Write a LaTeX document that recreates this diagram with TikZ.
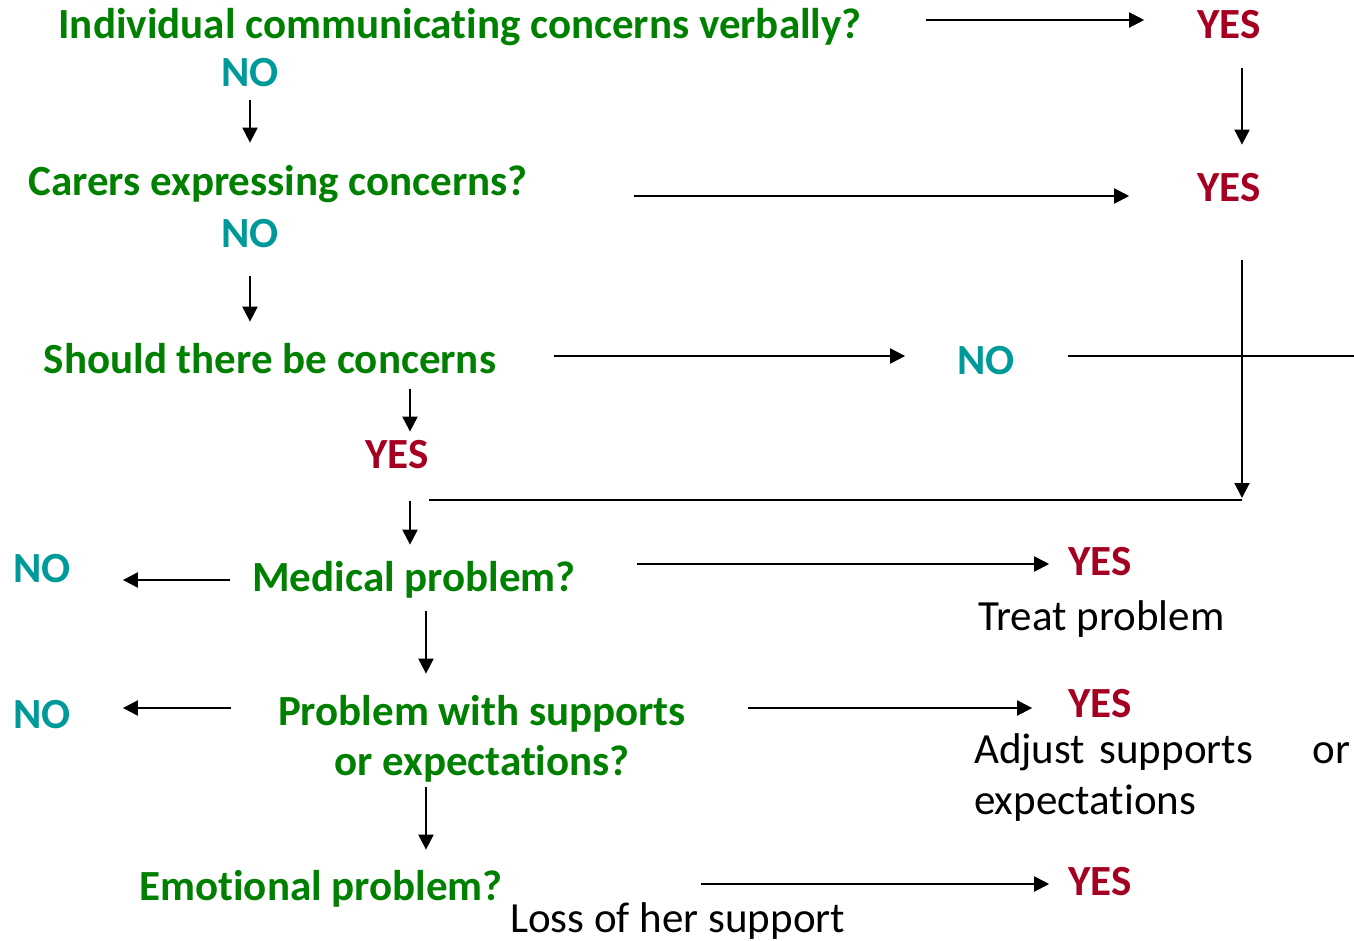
\documentclass[tikz,border=0pt]{standalone}
\usepackage{fontspec}
\setmainfont{Carlito}[Ligatures=NoCommon]
\usetikzlibrary{arrows.meta}
\definecolor{qgreen}{HTML}{008000}
\definecolor{nocol}{HTML}{009999}
\definecolor{yescol}{HTML}{A50021}
\tikzset{
	q/.style={anchor=base,inner sep=0pt,font=\bfseries\fontsize{43}{50}\selectfont,text=qgreen},
	no/.style={q,text=nocol},
	yes/.style={q,text=yescol},
	act/.style={anchor=base west,inner sep=0pt,font=\fontsize{43}{51}\selectfont},
	arr/.style={-{Triangle[length=15pt,width=15pt]},line width=2pt},
	ln/.style={line width=2pt}
}
\begin{document}
\begin{tikzpicture}[x=1pt,y=-1pt]
		\useasboundingbox (0,0) rectangle (1354,940);
		\node[q] (t1) at (460,38) {Individual communicating concerns verbally?};
		\node[yes] (y1) at (1229,38) {YES};
		\node[no] (n1) at (250,86) {NO};
		\node[q] (t2) at (278,195) {Carers expressing concerns?};
		\node[yes] (y2) at (1229,201) {YES};
		\node[no] (n2) at (250,247) {NO};
		\node[q] (t3) at (270,373) {Should there be concerns};
		\node[no] (n3) at (986,374) {NO};
		\node[yes] (y3) at (397,468) {YES};
		\node[q] (t4) at (414,591) {Medical problem?};
		\node[no] (n4) at (42,582) {NO};
		\node[yes] (y4) at (1100,575) {YES};
		\node[act] (a4) at (978,630) {Treat problem};
		\node[q,align=center] (t5) at (482,775) {Problem with supports\\or expectations?};
		\node[no] (n5) at (42,728) {NO};
		\node[yes] (y5) at (1100,717) {YES};
		\node[act,text width=376pt,align=left] (a5) at (974,763) {Adjust supports\hfill or\\expectations};
		\node[q] (t6) at (321,900) {Emotional problem?};
		\node[act] (a6) at (510,932) {Loss of her support};
		\node[yes] (y6) at (1100,895) {YES};
		\coordinate (e3) at (1354,356);
		\coordinate (join) at (1242,500);
		\draw[arr,shorten <=64pt,shorten >=53pt] ([yshift=18pt]y1.base west -| t1.east) -- ([yshift=18pt]y1.base west);
		\draw[arr,shorten <=30pt,shorten >=28pt] ([xshift=13pt]y1.south) -- ([xshift=13pt]y2.north);
		\draw[arr,shorten <=14pt,shorten >=22pt] (n1.south) -- (n1.south |- t2.north);
		\draw[arr,shorten <=106pt,shorten >=68pt] ([yshift=5pt]y2.base west -| t2.east) -- ([yshift=5pt]y2.base west);
		\draw[arr,shorten <=29pt,shorten >=21pt] (n2.south) -- (n2.south |- t3.north);
		\draw[arr,shorten <=58pt,shorten >=52pt] ([yshift=18pt]n3.base west -| t3.east) -- ([yshift=18pt]n3.base west);
		\draw[ln,shorten <=53pt] ([yshift=18pt]n3.base east) -- (e3);
		\draw[arr,shorten <=59pt,shorten >=2pt] ([xshift=13pt]y2.south) -- (join);
		\draw[ln] (join) -- (join -| y3.east);
		\draw[arr,shorten <=15pt,shorten >=8pt] ([xshift=13pt]y3.north |- t3.south) -- ([xshift=13pt]y3.north);
		\draw[arr,shorten <=32pt,shorten >=16pt] ([xshift=13pt]y3.south) -- ([xshift=13pt]y3.south |- t4.north);
		\draw[arr,shorten <=22pt,shorten >=52pt] ([yshift=2pt]n4.base east -| t4.west) -- ([yshift=2pt]n4.base east);
		\draw[arr,shorten <=61pt,shorten >=19pt] ([yshift=11pt]y4.base west -| t4.east) -- ([yshift=11pt]y4.base west);
		\draw[arr,shorten <=13pt,shorten >=21pt] ([xshift=12pt]t4.south) -- ([xshift=12pt]t4.south |- t5.north);
		\draw[arr,shorten <=47pt,shorten >=52pt] ([yshift=20pt]n5.base east -| t5.west) -- ([yshift=20pt]n5.base east);
		\draw[arr,shorten <=62pt,shorten >=36pt] ([yshift=9pt]y5.base west -| t5.east) -- ([yshift=9pt]y5.base west);
		\draw[arr,shorten <=5pt,shorten >=20pt] ([xshift=-56pt]t5.south) -- ([xshift=-56pt]t5.south |- t6.north);
		\draw[arr,shorten <=198pt,shorten >=19pt] ([yshift=11pt]y6.base west -| t6.east) -- ([yshift=11pt]y6.base west);
\end{tikzpicture}
\end{document}
